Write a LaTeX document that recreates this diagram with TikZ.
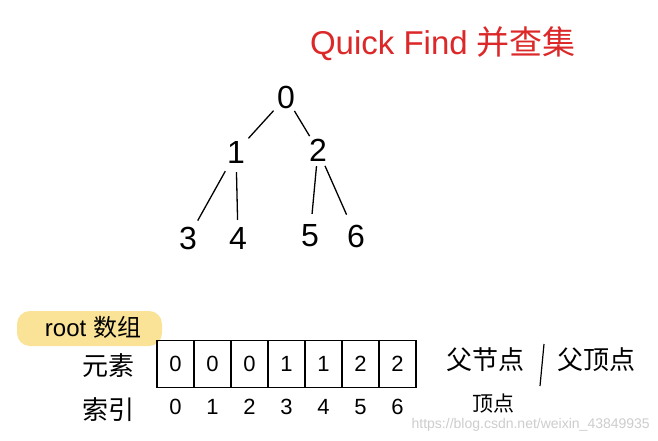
\documentclass[tikz,border=0pt]{standalone}
\usepackage{fontspec}
\setmainfont{Liberation Sans}
\newfontfamily\cjk{Noto Sans CJK SC}[Scale=1]
\definecolor{titlered}{RGB}{220,40,40}
\definecolor{hilite}{RGB}{250,226,150}
\definecolor{wmgray}{RGB}{205,205,205}
\begin{document}
\begin{tikzpicture}[x=1pt,y=-1pt,
  tnode/.style={font=\fontsize{32}{32}\selectfont, inner sep=0pt, minimum size=24pt},
  tedge/.style={line width=1.3pt, shorten >=2pt, shorten <=2pt},
  cell/.style={draw, line width=1.2pt, minimum width=37pt, minimum height=47pt, inner sep=0pt, font=\fontsize{22}{22}\selectfont},
  idx/.style={font=\fontsize{22}{22}\selectfont, inner sep=0pt},
  lab/.style={font=\cjk\fontsize{26}{26}\selectfont, inner sep=0pt}]
\useasboundingbox[fill=white] (0,0) rectangle (658,441);
% title
\node[text=titlered, font=\fontsize{33}{33}\selectfont, inner sep=0pt] (title) at (443,44) {Quick Find {\cjk 并查集}};
% tree
\node[tnode] (n0) at (286,97) {0};
\node[tnode] (n1) at (236,152) {1};
\node[tnode] (n2) at (318,150) {2};
\node[tnode] (n3) at (188,238) {3};
\node[tnode] (n4) at (238,238) {4};
\node[tnode] (n5) at (310,236) {5};
\node[tnode] (n6) at (356,236) {6};
\draw[tedge] (n0) -- (n1);
\draw[tedge] (n0) -- (n2);
\draw[tedge, shorten <=8pt, shorten >=6pt] (n1) -- (n3);
\draw[tedge, shorten <=8pt, shorten >=6pt] (n1) -- (n4);
\draw[tedge, shorten <=4pt, shorten >=10pt] (n2) -- (n5);
\draw[tedge, shorten <=4pt, shorten >=10pt] (n2) -- (n6);
% root array label
\fill[hilite, rounded corners=13pt] (17,311) rectangle (162,346);
\node[font=\fontsize{24}{24}\selectfont, inner sep=0pt] (rootlab) at (93,327) {root {\cjk 数组}};
% array cells
\foreach \i/\v in {0/0,1/0,2/0,3/1,4/1,5/2,6/2}{
  \node[cell] (c\i) at ({175.5+37*\i},364) {\v};
  \node[idx] (i\i) at ({175.5+37*\i},407) {\i};
}
\node[lab] (elem) at (108,366) {元素};
\node[lab] (index) at (108,410) {索引};
\node[lab] (parent) at (485,360) {父节点};
\draw[line width=1.2pt] (544,344) -- (540,386);
\node[lab] (parentv) at (596,360) {父顶点};
\node[font=\cjk\fontsize{21}{21}\selectfont, inner sep=0pt] (vert) at (493,404) {顶点};
% watermark
\node[text=wmgray, font=\fontsize{14}{14}\selectfont, inner sep=0pt, anchor=east] (wm) at (650,425) {https://blog.csdn.net/weixin\_43849935};
\end{tikzpicture}
\end{document}
